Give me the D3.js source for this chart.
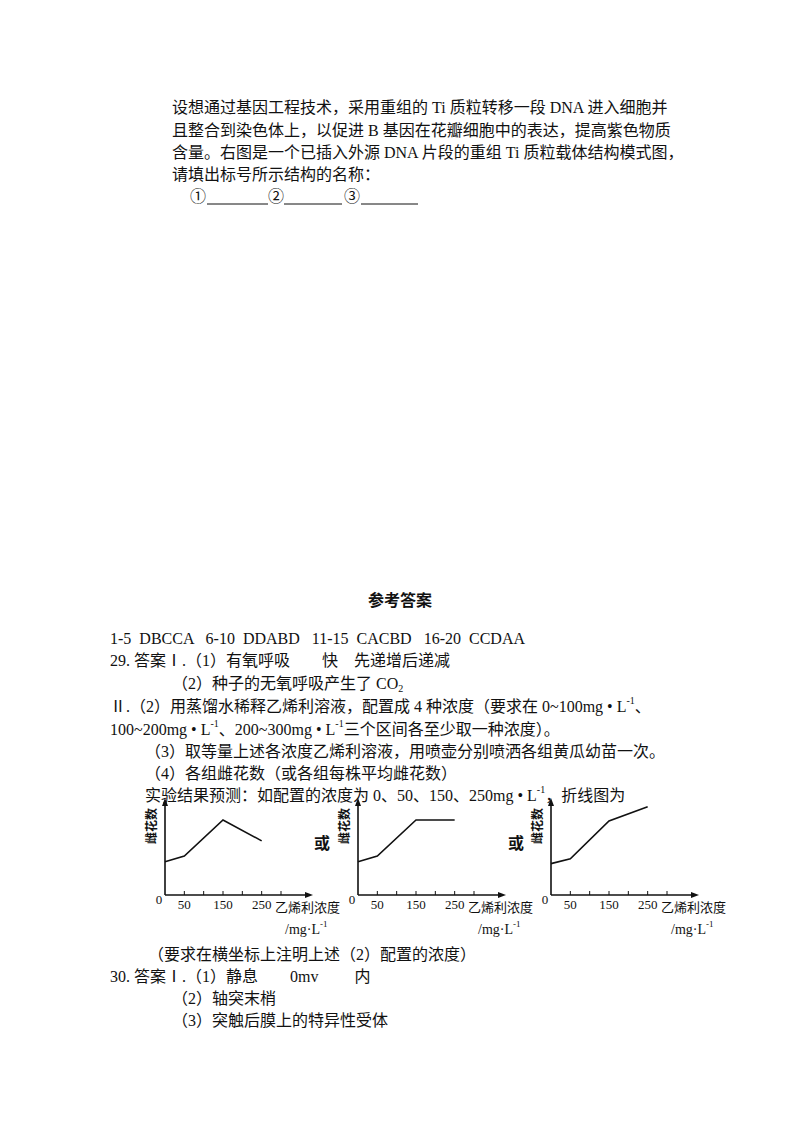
<!DOCTYPE html>
<html><head><meta charset="utf-8">
<script src="https://cdn.jsdelivr.net/npm/d3@7"></script>
<style>body{margin:0;background:#fff}text{font-family:"Liberation Serif","Noto Sans CJK SC",serif;fill:#111;white-space:pre}</style>
</head><body><svg id="c" width="800" height="1132"></svg>
<script>
const concentrations=[0,50,150,250];
const seriesA=[35,41,79,57];
const seriesB=[35,41,79,79];
const seriesC=[33,38,78,93];
const xTicks=[50,100,150,200,250,300];
const xTickLabels=[0,50,150,250];

const svg=d3.select("#c");
function line(x,y,str,opts={}){
  const t=svg.append("text").attr("x",x).attr("y",y).attr("dominant-baseline","central")
    .attr("font-size",opts.size||16).attr("font-weight",opts.bold?"bold":null)
    .attr("text-anchor",opts.anchor||"start");
  const parts=str.split(/(\^\{[^}]*\}|_\{[^}]*\})/);
  parts.forEach(p=>{
    if(p.startsWith("^{")) t.append("tspan").attr("baseline-shift","super").attr("font-size",10).text(p.slice(2,-1));
    else if(p.startsWith("_{")) t.append("tspan").attr("baseline-shift","sub").attr("font-size",10).text(p.slice(2,-1));
    else if(p) t.append("tspan").text(p);
  });
  return t;
}
line(172,107,"设想通过基因工程技术，采用重组的 Ti 质粒转移一段 DNA 进入细胞并");
line(172,130,"且整合到染色体上，以促进 B 基因在花瓣细胞中的表达，提高紫色物质");
line(172,152,"含量。右图是一个已插入外源 DNA 片段的重组 Ti 质粒载体结构模式图，");
line(172,174,"请填出标号所示结构的名称：");
line(190,196,"①");
line(268,196,"②");
line(344,196,"③");
[[207,268],[284,342],[361,418]].forEach(([a,b])=>svg.append("line").attr("x1",a).attr("x2",b).attr("y1",204).attr("y2",204).attr("stroke","#111"));

line(400,600,"参考答案",{bold:true,anchor:"middle"});
line(110,638,"1-5  DBCCA   6-10  DDABD   11-15  CACBD   16-20  CCDAA");
line(110,660,"29. 答案Ⅰ.（1）有氧呼吸　　快　先递增后递减");
line(172,683,"（2）种子的无氧呼吸产生了 CO_{2}");
line(110,706,"Ⅱ.（2）用蒸馏水稀释乙烯利溶液，配置成 4 种浓度（要求在 0~100mg • L^{-1}、");
line(110,729,"100~200mg • L^{-1}、200~300mg • L^{-1}三个区间各至少取一种浓度）。");
line(145,751,"（3）取等量上述各浓度乙烯利溶液，用喷壶分别喷洒各组黄瓜幼苗一次。");
line(145,773,"（4）各组雌花数（或各组每株平均雌花数）");
line(145,795,"实验结果预测：如配置的浓度为 0、50、150、250mg • L^{-1}，折线图为");

line(148,954,"（要求在横坐标上注明上述（2）配置的浓度）");
line(110,976,"30. 答案Ⅰ.（1）静息　　0mv　　 内");
line(172,998,"（2）轴突末梢");
line(172,1020,"（3）突触后膜上的特异性受体");

function chart(ox,data,label){
  const g=svg.append("g");
  const x=d3.scaleLinear().domain([0,300]).range([ox,ox+116]);
  const y=d3.scaleLinear().domain([0,100]).range([895,800]);
  g.append("line").attr("x1",ox).attr("x2",ox).attr("y1",895).attr("y2",802).attr("stroke","#111").attr("stroke-width",1.6);
  g.append("line").attr("x1",ox).attr("x2",ox+143).attr("y1",895).attr("y2",895).attr("stroke","#111").attr("stroke-width",1.6);
  g.append("path").attr("d",`M${ox-3},${806}L${ox},${798}L${ox+3},${806}Z`).attr("fill","#111");
  g.append("path").attr("d",`M${ox+140},${892}L${ox+148},${895}L${ox+140},${898}Z`).attr("fill","#111");
  xTicks.forEach(t=>g.append("line").attr("x1",x(t)).attr("x2",x(t)).attr("y1",895).attr("y2",891).attr("stroke","#111"));
  xTickLabels.forEach(t=>g.append("text").attr("x",t===0?ox-6:x(t)).attr("y",902+(t===0?-3:2)).attr("text-anchor","middle").attr("font-size",13).attr("dominant-baseline","central").text(t));
  g.append("path").datum(data.map((v,i)=>[concentrations[i],v]))
    .attr("d",d3.line().x(d=>x(d[0])).y(d=>y(d[1]))).attr("fill","none").attr("stroke","#111").attr("stroke-width",1.6);
  g.append("text").attr("transform",`translate(${ox-13},826) rotate(-90)`).attr("text-anchor","middle").attr("dominant-baseline","central").attr("font-size",12).attr("font-weight","bold").text(label);
  g.append("text").attr("x",ox+110).attr("y",907).attr("font-size",13).attr("dominant-baseline","central").text("乙烯利浓度");
  const u=g.append("text").attr("x",ox+120).attr("y",929).attr("font-size",14).attr("dominant-baseline","central");
  u.append("tspan").text("/mg·L");u.append("tspan").attr("baseline-shift","super").attr("font-size",9).text("-1");
}
chart(165,seriesA,"雌花数");
chart(358,seriesB,"雌花数");
chart(551,seriesC,"雌花数");
line(314,843,"或",{bold:true});
line(508,843,"或",{bold:true});
</script></body></html>
